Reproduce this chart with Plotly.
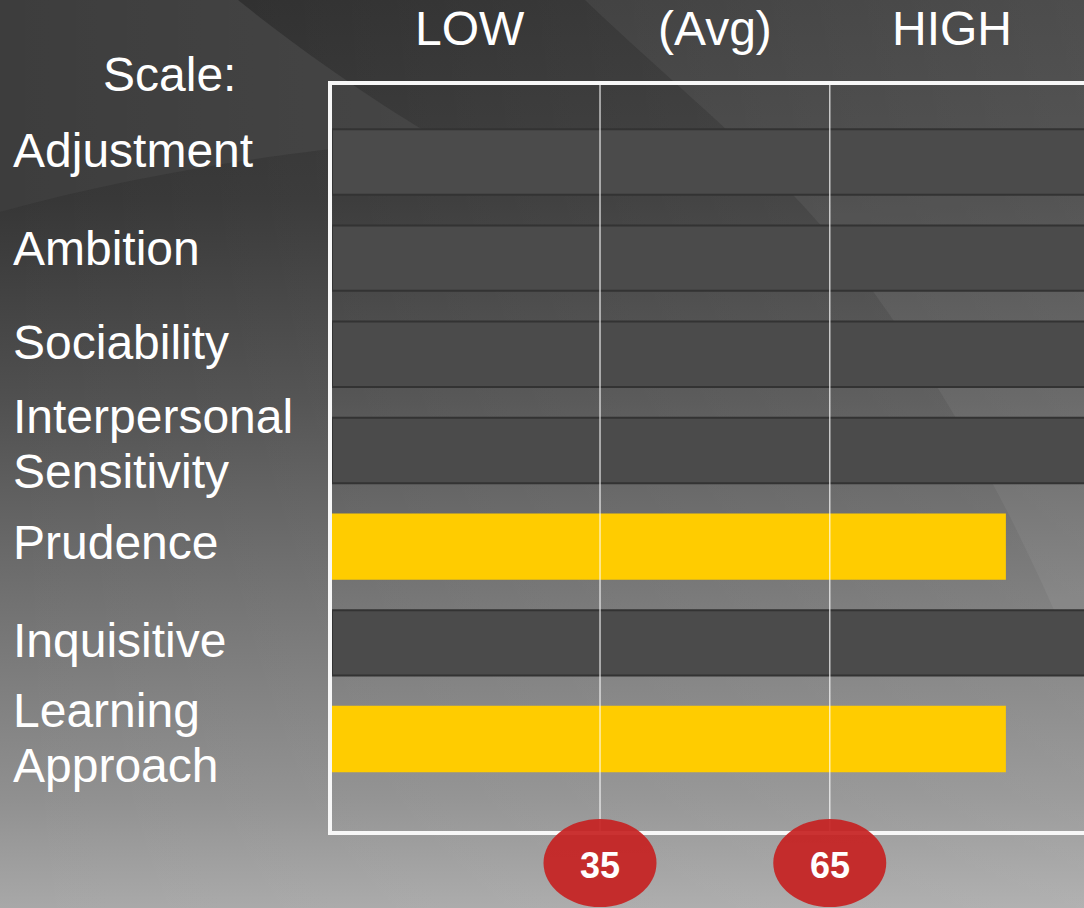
import base64
import plotly.graph_objects as go

# ---------------- data ----------------
CATEGORIES = ["Adjustment", "Ambition", "Sociability", "Interpersonal<br>Sensitivity",
              "Prudence", "Inquisitive", "Learning<br>Approach"]
SCORES = [None, None, None, None, 88, None, 88]          # highlighted (yellow) scales
UNSCORED = [100, 100, 100, 100, None, 100, None]         # dark placeholder bars
SCALE_TITLE = "Scale:"
SCALE_LABELS = ["LOW", "(Avg)", "HIGH"]
SCALE_LABEL_X = [18, 50, 81]
THRESHOLDS = [35, 65]

# ---------------- layout geometry ----------------
W, H = 1084, 908
L, R, T, B = 332, 0, 85, 77
PW, PH = W - L - R, H - T - B
X_RANGE = [0, 98.2]
Y_RANGE = [6.956, -0.80]
FONT = "Liberation Sans, Arial, sans-serif"
LABEL_SIZE = 48


def px_x(px):
    return (px - L) / PW


def px_y(py):
    return (H - B - py) / PH


rows = list(range(len(CATEGORIES)))

# ---------------- background (decorative) ----------------
svg = f'''<svg xmlns="http://www.w3.org/2000/svg" width="{W}" height="{H}" viewBox="0 0 {W} {H}" preserveAspectRatio="none">
<defs>
<linearGradient id="v" x1="0" y1="0" x2="0" y2="1">
<stop offset="0" stop-color="#2c2c2c"/>
<stop offset="0.22" stop-color="#363636"/>
<stop offset="0.44" stop-color="#505050"/>
<stop offset="0.66" stop-color="#717171"/>
<stop offset="0.88" stop-color="#909090"/>
<stop offset="1" stop-color="#a8a8a8"/>
</linearGradient>
<linearGradient id="h" x1="0" y1="0" x2="1" y2="0">
<stop offset="0" stop-color="#ffffff" stop-opacity="0"/>
<stop offset="1" stop-color="#ffffff" stop-opacity="0.11"/>
</linearGradient>
</defs>
<rect width="{W}" height="{H}" fill="url(#v)"/>
<path d="M0,0 L238,0 C300,50 380,105 440,140 C330,145 150,170 0,212 Z" fill="#3d3d3d"/>
<rect width="{W}" height="{H}" fill="url(#h)"/>
<path d="M585,0 C690,100 770,160 850,260 C940,380 1010,500 1084,680 L1084,0 Z" fill="#ffffff" fill-opacity="0.055"/>
</svg>'''
bg_uri = "data:image/svg+xml;base64," + base64.b64encode(svg.encode()).decode()

fig = go.Figure()
fig.add_trace(go.Bar(
    y=rows, x=UNSCORED, orientation="h", width=0.68,
    marker=dict(color="#4b4b4b", line=dict(color="#333333", width=2)),
    hoverinfo="skip", showlegend=False,
))
fig.add_trace(go.Bar(
    y=rows, x=SCORES, orientation="h", width=0.69,
    marker=dict(color="#FFCC00", line=dict(width=0)),
    hoverinfo="skip", showlegend=False,
))

shapes = []
for t in THRESHOLDS:
    shapes.append(dict(type="line", xref="x", yref="paper", x0=t, x1=t, y0=0, y1=1,
                       line=dict(color="rgba(255,255,255,0.7)", width=1.5), layer="above"))
shapes.append(dict(type="rect", xref="paper", yref="paper",
                   x0=px_x(330), x1=1.05, y0=px_y(833), y1=px_y(83),
                   line=dict(color="#f7f7f7", width=4), fillcolor="rgba(0,0,0,0)", layer="above"))
for t in THRESHOLDS:
    shapes.append(dict(type="circle", xref="x", yref="paper", xsizemode="pixel", ysizemode="pixel",
                       xanchor=t, yanchor=px_y(863), x0=-56.5, x1=56.5, y0=-44, y1=44,
                       fillcolor="#C62222", opacity=0.93, line=dict(width=0), layer="above"))

annotations = []
# left labels
LABEL_CENTER_PX = [151, 248, 342, 444, 542, 640, 737.5]
LINE_PITCH = 55
for i, cat in enumerate(CATEGORIES):
    lines = cat.split("<br>")
    n = len(lines)
    for j, ln in enumerate(lines):
        cy = LABEL_CENTER_PX[i] + (j - (n - 1) / 2) * LINE_PITCH
        annotations.append(dict(text=ln, xref="paper", yref="paper", x=px_x(11), y=px_y(cy),
                                xanchor="left", yanchor="middle", showarrow=False,
                                font=dict(family=FONT, size=LABEL_SIZE, color="white")))
annotations.append(dict(text=SCALE_TITLE, xref="paper", yref="paper", x=px_x(101), y=px_y(74),
                        xanchor="left", yanchor="middle", showarrow=False,
                        font=dict(family=FONT, size=LABEL_SIZE, color="white")))
for lab, xv in zip(SCALE_LABELS, SCALE_LABEL_X):
    annotations.append(dict(text=lab, xref="x", yref="paper", x=xv, y=px_y(29),
                            xanchor="center", yanchor="middle", showarrow=False,
                            font=dict(family=FONT, size=LABEL_SIZE, color="white")))
for t in THRESHOLDS:
    annotations.append(dict(text=f"<b>{t}</b>", xref="x", yref="paper", x=t, y=px_y(865),
                            xanchor="center", yanchor="middle", showarrow=False,
                            font=dict(family=FONT, size=36, color="white")))

fig.update_layout(
    width=W, height=H,
    margin=dict(l=L, r=R, t=T, b=B, pad=0),
    paper_bgcolor="#3a3a3a", plot_bgcolor="rgba(0,0,0,0)",
    barmode="overlay",
    xaxis=dict(range=X_RANGE, visible=False, showgrid=False, zeroline=False, fixedrange=True),
    yaxis=dict(range=Y_RANGE, visible=False, showgrid=False, zeroline=False, fixedrange=True),
    shapes=shapes, annotations=annotations,
    images=[dict(source=bg_uri, xref="paper", yref="paper", x=px_x(0), y=px_y(0),
                 sizex=W / PW, sizey=H / PH, xanchor="left", yanchor="top",
                 sizing="stretch", layer="below")],
    showlegend=False,
)

fig.write_html("out.html", config={"displayModeBar": False})
